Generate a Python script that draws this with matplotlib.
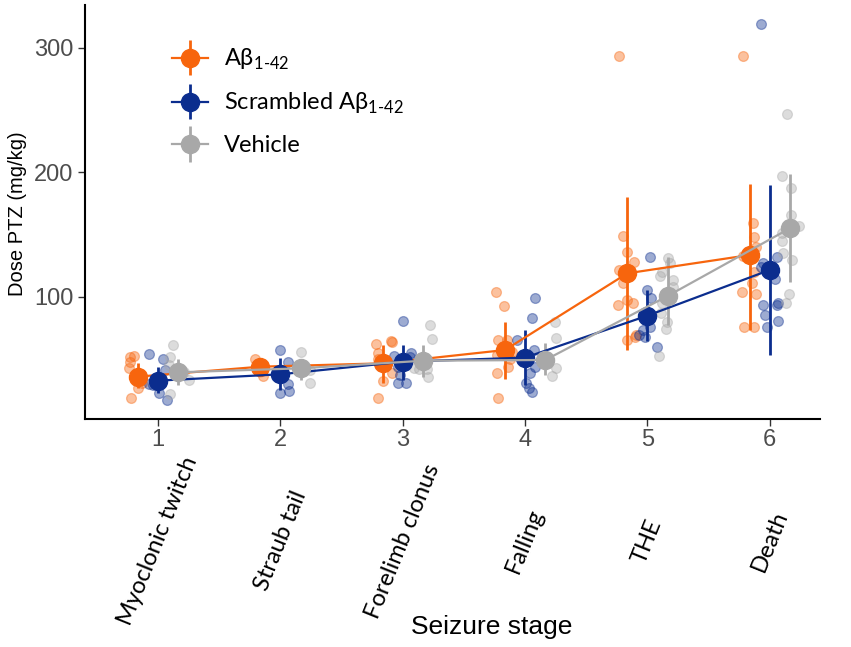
import matplotlib
matplotlib.use("Agg")
import matplotlib.pyplot as plt
from matplotlib.legend_handler import HandlerErrorbar
import numpy as np

# seizure stages
stages = [1, 2, 3, 4, 5, 6]
stage_names = ["Myoclonic twitch", "Straub tail", "Forelimb clonus",
               "Falling", "THE", "Death"]

# group means and error bar limits (mg/kg)
ab_mean = [36, 44, 46.7, 57.4, 119, 133.7]
ab_lo = [26.7, 38.7, 30.7, 34.1, 57.4, 73.5]
ab_hi = [46.7, 49.4, 61.4, 80.2, 180.6, 190.8]

sc_mean = [32.8, 37.9, 48, 51.3, 85, 121.7]
sc_lo = [22.6, 25.3, 33.3, 29.3, 64.9, 53.4]
sc_hi = [44, 50.8, 61.4, 73.5, 105.6, 190]

veh_mean = [39.5, 42.7, 48.8, 49.4, 100.8, 155.2]
veh_lo = [29.3, 33.3, 36, 37.3, 77.5, 112.3]
veh_hi = [50, 50, 61.4, 62.8, 132.4, 198.8]

# individual animals per stage, with the jitter seen in the picture
ab_vals = [
    [51.5, 52.6, 48, 42.7, 18.6, 26.7, 30.6],
    [50, 36.5, 43],
    [62.2, 64.9, 64, 55.3, 50, 38.7, 32.8, 18.6],
    [103.8, 92.8, 65.5, 65.5, 53.4, 56, 44, 39.2, 18.6, 50],
    [293.8, 149.2, 135.9, 128.4, 121.7, 111.5, 93.6, 97.6, 95.4, 65.5, 69.5, 68],
    [293.8, 159.7, 148, 140.4, 132.9, 120.3, 111.5, 104.3, 102.4, 76.1, 76.1],
]
ab_jit = [
    [-0.23, -0.20, -0.23, -0.24, -0.22, -0.16, -0.13],
    [-0.21, -0.14, -0.16],
    [-0.22, -0.10, -0.09, -0.20, -0.20, -0.09, -0.16, -0.20],
    [-0.24, -0.17, -0.22, -0.15, -0.23, -0.11, -0.14, -0.23, -0.22, -0.12],
    [-0.23, -0.20, -0.17, -0.11, -0.23, -0.20, -0.24, -0.17, -0.12, -0.17, -0.09, -0.10],
    [-0.22, -0.14, -0.13, -0.11, -0.22, -0.13, -0.15, -0.23, -0.11, -0.21, -0.13],
]

sc_vals = [
    [54.2, 50, 41.4, 30.1, 29.3, 22.6, 17.3, 31.9],
    [57.4, 47.6, 36.5, 30.1, 24.7, 22.6],
    [81, 55.3, 52.6, 44, 37.3, 30.6, 30.6, 52],
    [99, 82.9, 65.5, 57.4, 44, 38.7, 30.6, 26.7, 24],
    [132.4, 105.6, 99, 75.7, 73.5, 68.1, 69.5, 59.6],
    [319, 131.9, 127.6, 124.3, 114.2, 93.3, 93.6, 95, 85.5, 81, 76.1],
]
sc_jit = [
    [-0.07, 0.04, 0.06, -0.07, -0.04, 0.01, 0.07, 0.03],
    [0.0, 0.06, -0.04, 0.06, 0.07, 0.0],
    [0.0, 0.07, -0.07, -0.04, -0.02, -0.04, 0.03, 0.06],
    [0.08, 0.06, -0.07, 0.07, 0.08, 0.04, 0.01, 0.03, 0.06],
    [0.02, 0.0, 0.03, 0.02, -0.04, -0.02, -0.07, 0.08],
    [-0.07, 0.06, -0.06, -0.07, 0.04, -0.06, 0.06, 0.07, -0.04, 0.07, -0.02],
]

veh_vals = [
    [61.2, 51.5, 45.4, 33.3, 22, 40],
    [56, 31.1, 41.4],
    [77.5, 66.3, 42.7, 42.5, 42.2, 36],
    [79.6, 66.8, 42.7, 36.5, 49],
    [131.1, 127.1, 120.3, 116.9, 113.7, 108.3, 94.9, 87.4, 80.2, 74, 52.6],
    [246.7, 197.2, 187.2, 165.9, 157, 151.2, 145.2, 135.1, 129.7, 102.4, 94.9],
]
veh_jit = [
    [0.12, 0.10, 0.09, 0.25, 0.10, 0.21],
    [0.17, 0.24, 0.24],
    [0.22, 0.24, 0.09, 0.13, 0.20, 0.21],
    [0.24, 0.25, 0.25, 0.22, 0.15],
    [0.17, 0.18, 0.12, 0.10, 0.21, 0.21, 0.12, 0.11, 0.16, 0.15, 0.09],
    [0.14, 0.10, 0.17, 0.17, 0.24, 0.10, 0.10, 0.11, 0.18, 0.16, 0.13],
]

ORANGE = "#F7650D"
BLUE = "#0B2D8E"
GRAY = "#A8A8A8"

plt.rcParams["font.family"] = ["Liberation Sans", "DejaVu Sans"]
plt.rcParams["mathtext.fontset"] = "custom"
plt.rcParams["mathtext.rm"] = "Lato"

fig = plt.figure(figsize=(8.51, 6.47), dpi=100)
ax = fig.add_axes([0.0999, 0.3524, 0.8637, 0.6399])

groups = [
    ("A\u03b2$_{\\text{1-42}}$", ORANGE, -0.165, ab_mean, ab_lo, ab_hi, ab_vals, ab_jit),
    ("Scrambled A\u03b2$_{\\text{1-42}}$", BLUE, 0.0, sc_mean, sc_lo, sc_hi, sc_vals, sc_jit),
    ("Vehicle", GRAY, 0.165, veh_mean, veh_lo, veh_hi, veh_vals, veh_jit),
]

# raw points first
for label, col, off, mean, lo, hi, vals, jit in groups:
    for st, v, j in zip(stages, vals, jit):
        ax.scatter(st + np.array(j), v, s=50, color=col, alpha=0.4,
                   edgecolors=col, linewidths=0.9, zorder=2)

handles = []
for label, col, off, mean, lo, hi, vals, jit in groups:
    x = np.array(stages) + off
    m = np.array(mean)
    err = [m - np.array(lo), np.array(hi) - m]
    h = ax.errorbar(x, m, yerr=err, color=col, lw=1.6, elinewidth=2.0,
                    marker="o", ms=13, capsize=0, zorder=3, label=label)
    handles.append(h)

ax.set_xlim(0.403, 6.41)
ax.set_ylim(2, 334.5)
ax.set_xticks(stages)
ax.set_yticks([100, 200, 300])
ax.tick_params(axis="both", colors="#333333", labelcolor="#4D4D4D",
               labelsize=17, length=5, width=1.0)
ax.tick_params(axis="x", pad=2)
for s in ["top", "right"]:
    ax.spines[s].set_visible(False)
for s in ["left", "bottom"]:
    ax.spines[s].set_linewidth(1.5)

# stage names under the tick numbers
trans = ax.get_xaxis_transform()
for st, name in zip(stages, stage_names):
    ax.text(st, -0.295, name, transform=trans, rotation=68, ha="center",
            va="center", fontsize=17, family="Lato", color="black")

fig.text(492 / 851, 1 - 627 / 647, "Seizure stage", ha="center", va="center",
         fontsize=19, color="black")
fig.text(18 / 851, 1 - 214 / 647, "Dose PTZ (mg/kg)", ha="center", va="center",
         rotation=90, fontsize=14.5, color="black")

leg = ax.legend(handles=handles, loc="upper left", bbox_to_anchor=(0.09, 0.95),
                frameon=False, handlelength=1.5, handletextpad=0.7,
                labelspacing=0.8, prop={"family": "Lato", "size": 17},
                handler_map={type(handles[0]): HandlerErrorbar(xerr_size=0.5, yerr_size=0.75)})

fig.savefig("out.png", dpi=100)
